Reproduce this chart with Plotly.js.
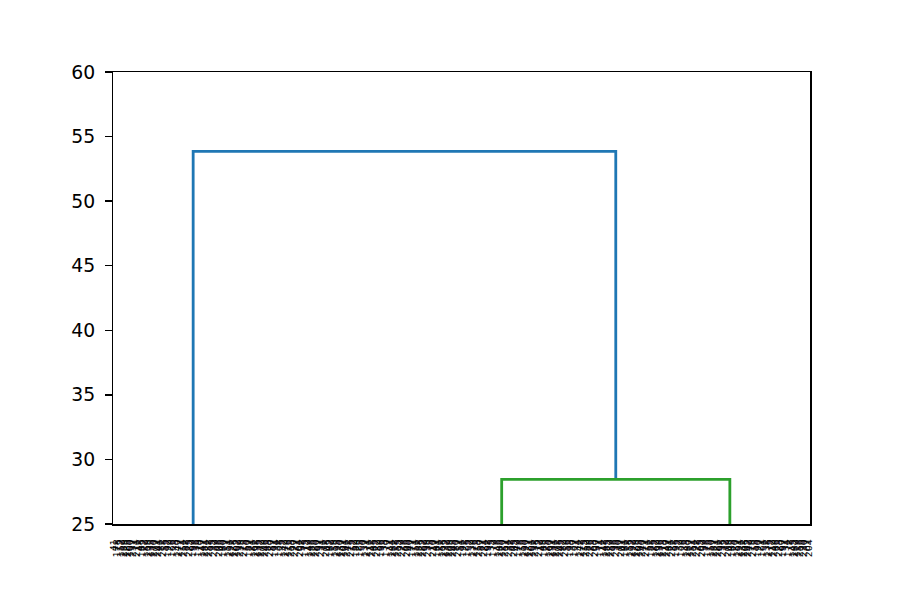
<!DOCTYPE html>
<html>
<head>
<meta charset="utf-8">
<script src="https://cdn.plot.ly/plotly-3.0.1.min.js"></script>
<style>html,body{margin:0;padding:0;background:#fff;}#chart{width:900px;height:600px;}</style>
</head>
<body>
<div id="chart"></div>
<script>
// Leaf labels in dendrogram order (unreadable in the reference; 300 leaves)
const leafLabels = [41, 178, 15, 152, 289, 126, 263, 100, 237, 74, 211, 48, 185, 22, 159, 296, 133, 270, 107, 244, 81, 218, 55, 192, 29, 166, 3, 140, 277, 114, 251, 88, 225, 62, 199, 36, 173, 10, 147, 284, 121, 258, 95, 232, 69, 206, 43, 180, 17, 154, 291, 128, 265, 102, 239, 76, 213, 50, 187, 24, 161, 298, 135, 272, 109, 246, 83, 220, 57, 194, 31, 168, 5, 142, 279, 116, 253, 90, 227, 64, 201, 38, 175, 12, 149, 286, 123, 260, 97, 234, 71, 208, 45, 182, 19, 156, 293, 130, 267, 104, 241, 78, 215, 52, 189, 26, 163, 0, 137, 274, 111, 248, 85, 222, 59, 196, 33, 170, 7, 144, 281, 118, 255, 92, 229, 66, 203, 40, 177, 14, 151, 288, 125, 262, 99, 236, 73, 210, 47, 184, 21, 158, 295, 132, 269, 106, 243, 80, 217, 54, 191, 28, 165, 2, 139, 276, 113, 250, 87, 224, 61, 198, 35, 172, 9, 146, 283, 120, 257, 94, 231, 68, 205, 42, 179, 16, 153, 290, 127, 264, 101, 238, 75, 212, 49, 186, 23, 160, 297, 134, 271, 108, 245, 82, 219, 56, 193, 30, 167, 4, 141, 278, 115, 252, 89, 226, 63, 200, 37, 174, 11, 148, 285, 122, 259, 96, 233, 70, 207, 44, 181, 18, 155, 292, 129, 266, 103, 240, 77, 214, 51, 188, 25, 162, 299, 136, 273, 110, 247, 84, 221, 58, 195, 32, 169, 6, 143, 280, 117, 254, 91, 228, 65, 202, 39, 176, 13, 150, 287, 124, 261, 98, 235, 72, 209, 46, 183, 20, 157, 294, 131, 268, 105, 242, 79, 216, 53, 190, 27, 164, 1, 138, 275, 112, 249, 86, 223, 60, 197, 34, 171, 8, 145, 282, 119, 256, 93, 230, 67, 204];

// Visible links (scipy icoord / dcoord style), leaf positions at 5, 15, 25, ...
const linkX = [
  [345, 345, 2164, 2164],
  [1673, 1673, 2655, 2655]
];
const linkY = [
  [21.0, 53.85, 53.85, 28.45],
  [22.5, 28.45, 28.45, 23.5]
];
const linkColors = ['#1f77b4', '#2ca02c'];

const yTicks = [25, 30, 35, 40, 45, 50, 55, 60];

const leafPositions = leafLabels.map((_, i) => 10 * i + 5);

const traces = linkX.map((xs, k) => ({
  type: 'scatter',
  mode: 'lines',
  x: xs,
  y: linkY[k],
  line: {color: linkColors[k], width: 2.8},
  hoverinfo: 'skip',
  showlegend: false
}));

const layout = {
  width: 900,
  height: 600,
  margin: {l: 113, r: 90, t: 72, b: 76, pad: 0},
  paper_bgcolor: '#ffffff',
  plot_bgcolor: '#ffffff',
  font: {family: 'DejaVu Sans, sans-serif', color: '#000000'},
  showlegend: false,
  xaxis: {
    range: [0, 10 * leafLabels.length],
    tickmode: 'array',
    tickvals: leafPositions,
    ticktext: leafLabels.map(String),
    tickangle: -90,
    tickfont: {size: 9.4, family: 'DejaVu Sans, sans-serif', color: '#000000'},
    ticks: '',
    ticklabelstandoff: 10,
    showgrid: false,
    zeroline: false,
    showline: true,
    linecolor: '#000000',
    linewidth: 1.5,
    mirror: true,
    fixedrange: true
  },
  yaxis: {
    range: [25, 60],
    tickmode: 'array',
    tickvals: yTicks,
    ticktext: yTicks.map(String),
    ticks: 'outside',
    ticklen: 6.6,
    tickwidth: 1.5,
    tickcolor: '#000000',
    ticklabelstandoff: 6,
    tickfont: {size: 18.8, family: 'DejaVu Sans, sans-serif', color: '#000000'},
    showgrid: false,
    zeroline: false,
    showline: true,
    linecolor: '#000000',
    linewidth: 1.5,
    mirror: true,
    fixedrange: true
  }
};

Plotly.newPlot('chart', traces, layout, {displayModeBar: false, staticPlot: true});
</script>
</body>
</html>
